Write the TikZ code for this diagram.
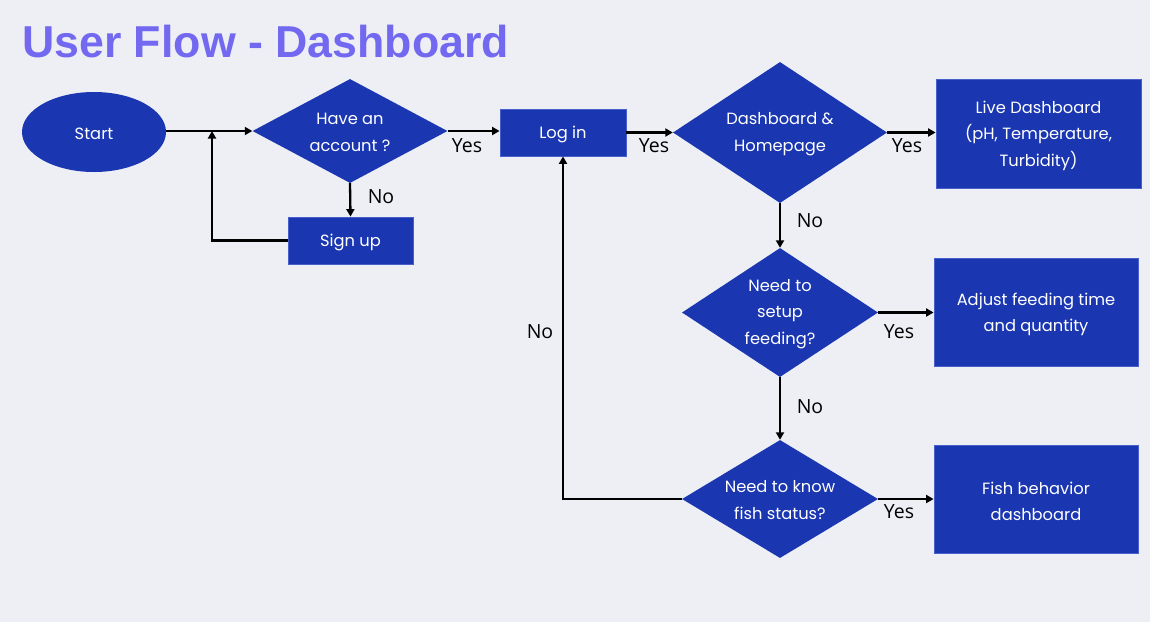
\documentclass[tikz,border=0pt]{standalone}
\usepackage{fontspec}
\setmainfont{Poppins}
\newfontfamily\titlefont{Liberation Sans}
\newfontfamily\labfont{Open Sans}
\usetikzlibrary{shapes.geometric,arrows.meta,calc}
\definecolor{bg}{RGB}{238,239,245}
\definecolor{fcblue}{RGB}{26,54,177}
\definecolor{fcedge}{RGB}{70,95,205}
\definecolor{titlecol}{RGB}{115,105,240}
\tikzset{
  box/.style={rectangle, fill=fcblue, draw=fcedge, line width=0.8pt, inner sep=0pt},
  dia/.style={diamond, fill=fcblue, inner sep=0pt},
  dtext/.style={text=white, align=center, font=\fontsize{16.3}{26.5}\selectfont},
  btext/.style={dtext, yshift=-2.2pt},
  conn/.style={line width=2.3pt, -{Triangle[length=7.5pt,width=8pt]}},
  lab/.style={font=\labfont\fontsize{19.5}{22}\selectfont, text=black, inner sep=0pt}
}
\begin{document}
\begin{tikzpicture}[x=1pt,y=-1pt]
\fill[bg] (0,0) rectangle (1150,622);
\useasboundingbox (0,0) rectangle (1150,622);
\node[anchor=base west, inner sep=0pt, text=titlecol, font=\titlefont\bfseries\fontsize{44.7}{50}\selectfont] (title) at (22,57) {User Flow - Dashboard};

\node[ellipse, fill=fcblue, minimum width=144pt, minimum height=80pt, inner sep=0pt] (start) at (94,132) {};
\node[btext] (startt) at (start) {Start};

\node[dia, minimum width=195pt, minimum height=104pt] (d1) at (350,131) {};
\node[dtext] (d1t) at (350,132.5) {Have an\\account ?};

\node[box, minimum width=125pt, minimum height=47pt] (signup) at (350.5,240.5) {};
\node[btext] (signupt) at (signup) {Sign up};
\node[box, minimum width=126pt, minimum height=47pt] (login) at (563,132.5) {};
\node[btext] (logint) at (login) {Log in};

\node[dia, minimum width=214pt, minimum height=141pt] (d2) at (780,132.5) {};
\node[dtext] (d2t) at (780,134) {Dashboard \&\\Homepage};

\node[box, minimum width=205pt, minimum height=109pt] (live) at (1038.5,133.5) {};
\node[btext] (livet) at (live) {Live Dashboard\\(pH, Temperature,\\Turbidity)};

\node[dia, minimum width=196pt, minimum height=129pt] (d3) at (780,312.5) {};
\node[dtext] (d3t) at (780,314) {Need to\\setup\\feeding?};

\node[box, minimum width=204pt, minimum height=108pt] (adjust) at (1036,312) {};
\node[btext] (adjustt) at (adjust) {Adjust feeding time\\and quantity};

\node[dia, minimum width=196pt, minimum height=118pt] (d4) at (780,499) {};
\node[dtext] (d4t) at (780,500) {Need to know\\fish status?};

\node[box, minimum width=204pt, minimum height=108pt] (fish) at (1036,499) {};
\node[btext] (fisht) at (fish) {Fish behavior\\dashboard};

\coordinate (j) at (212,131);

\draw[conn] (start.east |- d1.west) -- (d1.west);
\draw[conn] (signup.west) -| (j);
\draw[conn] (d1.south) -- (signup.north);
\draw[conn] (d1.east) -- (login.west |- d1.east);
\draw[conn] (login.east) -- (d2.west);
\draw[conn] (d2.east) -- (live.west |- d2.east);
\draw[conn] (d2.south) -- (d3.north);
\draw[conn] (d3.east) -- (adjust.west |- d3.east);
\draw[conn] (d3.south) -- (d4.north);
\draw[conn] (d4.east) -- (fish.west |- d4.east);
\draw[conn] (d4.west) -| (login.south);

\node[lab] (l1) at (381,197) {No};
\node[lab] (l2) at (467,146) {Yes};
\node[lab] (l3) at (654,146) {Yes};
\node[lab] (l4) at (907,146) {Yes};
\node[lab] (l5) at (810,221) {No};
\node[lab] (l6) at (899,332) {Yes};
\node[lab] (l7) at (810,407) {No};
\node[lab] (l8) at (899,512) {Yes};
\node[lab] (l9) at (540,332) {No};
\end{tikzpicture}
\end{document}
